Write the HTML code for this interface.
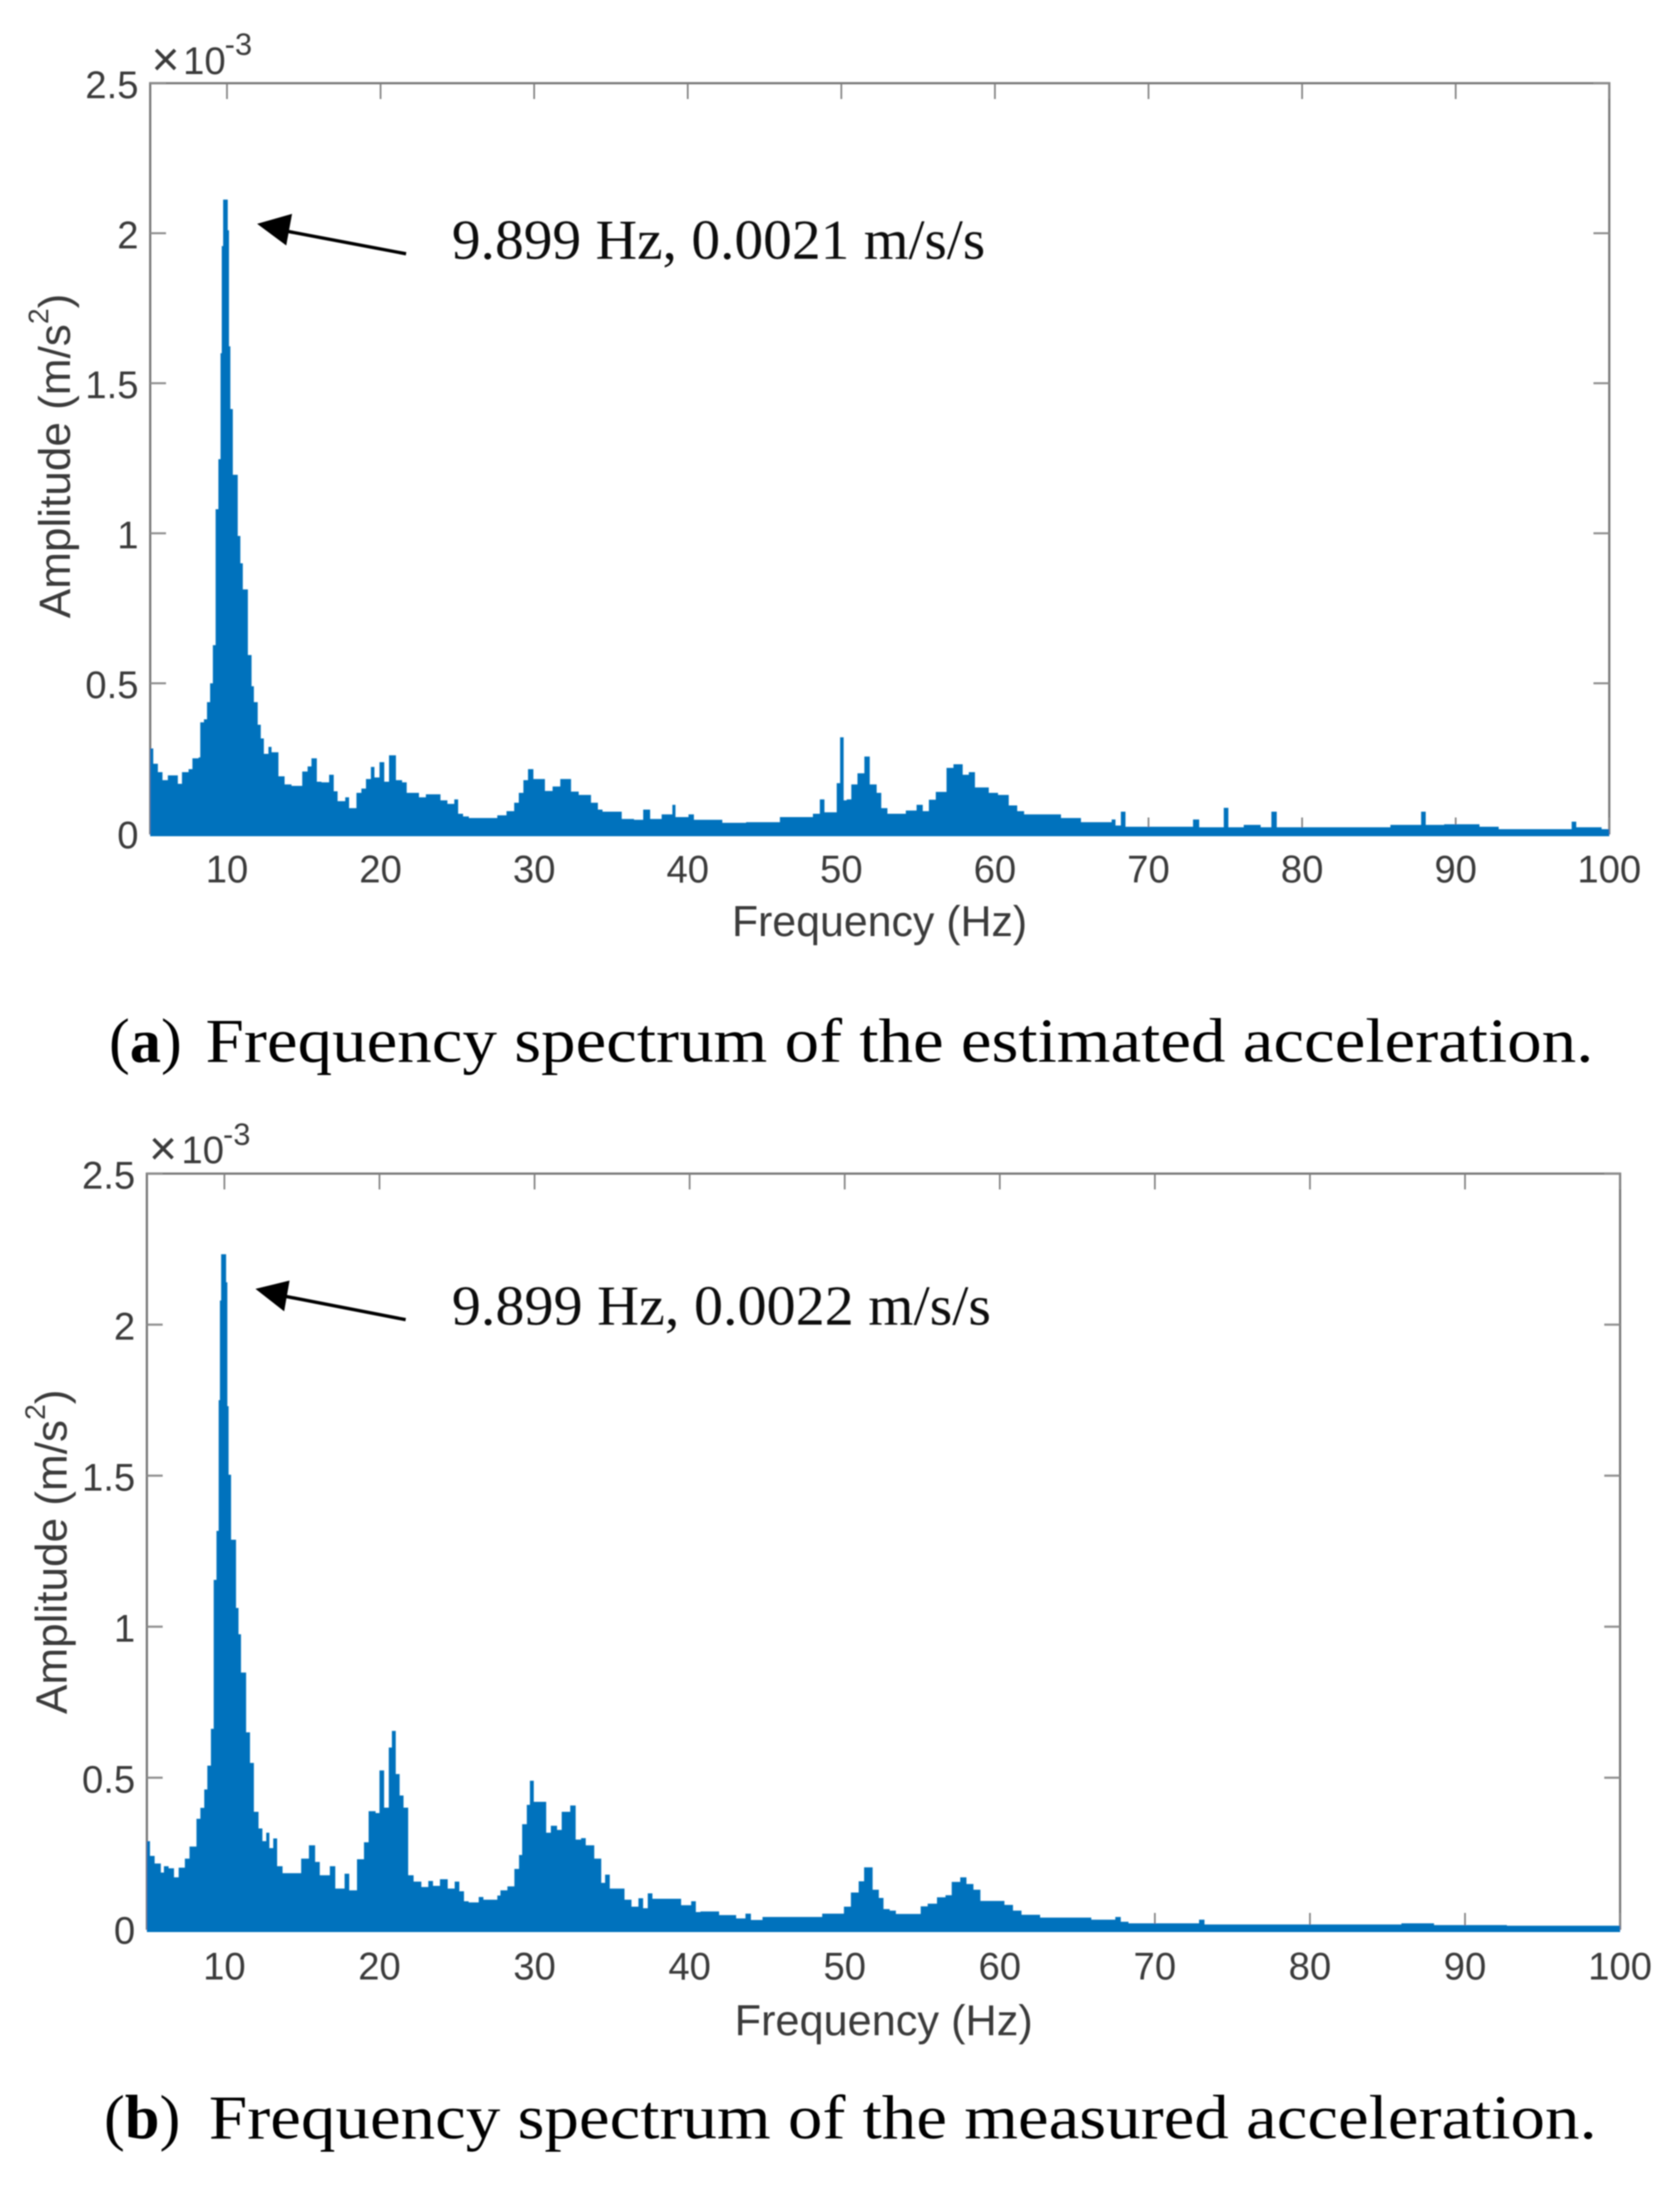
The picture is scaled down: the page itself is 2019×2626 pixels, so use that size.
<!DOCTYPE html>
<html lang="en">
<head>
<meta charset="utf-8">
<title>Frequency spectra of estimated and measured acceleration</title>
<style>
  html, body { margin: 0; padding: 0; background: #fff; }
  body { width: 2019px; height: 2626px; overflow: hidden; }
  svg { display: block; }
  .tick-label { font-family: "Liberation Sans", sans-serif; font-size: 46px; fill: #3a3a3a; }
  .axis-title { font-family: "Liberation Sans", sans-serif; fill: #3a3a3a; }
  .serif { font-family: "Liberation Serif", serif; fill: #111; }
  .caption { font-family: "Liberation Serif", serif; font-size: 75px; fill: #000; }
</style>
</head>
<body>
<svg id="fig" xmlns="http://www.w3.org/2000/svg" width="2019" height="2626" viewBox="0 0 2019 2626">
  <defs>
    <filter id="soft" x="0" y="0" width="100%" height="100%"><feGaussianBlur stdDeviation="0.7"/></filter>
  </defs>
  <rect width="2019" height="2626" fill="#fff"/>
  <g filter="url(#soft)">

    <g id="chart-a">
      <text class="tick-label" x="182" y="91" style="font-size:58px">×</text>
      <text class="tick-label" x="220" y="89">10</text>
      <text class="tick-label" x="270" y="66" style="font-size:37px">-3</text>
      <text class="axis-title" x="1057" y="1125" text-anchor="middle" font-size="51.5">Frequency (Hz)</text>
      <text class="axis-title" transform="translate(84,743) rotate(-90)" font-size="53">Amplitude (m/s<tspan font-size="34" dy="-26">2</tspan><tspan dy="26">)</tspan></text>
      <polygon points="309,269 351,257 344,295" fill="#000"/>
      <line x1="340" y1="277" x2="488" y2="305" stroke="#000" stroke-width="4"/>
      <text class="serif" x="543" y="311" font-size="68" textLength="641" lengthAdjust="spacingAndGlyphs">9.899 Hz, 0.0021 m/s/s</text>
    </g>
    <text class="caption" x="131" y="1276">(<tspan font-weight="700">a</tspan>)</text>
    <text class="caption" x="247" y="1276" textLength="1668" lengthAdjust="spacingAndGlyphs">Frequency spectrum of the estimated acceleration.</text>

    <g id="chart-b">
      <text class="tick-label" x="179" y="1400" style="font-size:58px">×</text>
      <text class="tick-label" x="218" y="1398">10</text>
      <text class="tick-label" x="268" y="1376" style="font-size:37px">-3</text>
      <text class="axis-title" x="1062" y="2446" text-anchor="middle" font-size="52">Frequency (Hz)</text>
      <text class="axis-title" transform="translate(80,2060) rotate(-90)" font-size="53">Amplitude (m/s<tspan font-size="34" dy="-26">2</tspan><tspan dy="26">)</tspan></text>
      <polygon points="307,1549 348,1539 341.5,1576" fill="#000"/>
      <line x1="338" y1="1557" x2="487.5" y2="1586" stroke="#000" stroke-width="4"/>
      <text class="serif" x="543" y="1592" font-size="68" textLength="648" lengthAdjust="spacingAndGlyphs">9.899 Hz, 0.0022 m/s/s</text>
    </g>
    <text class="caption" x="125" y="2570">(<tspan font-weight="700">b</tspan>)</text>
    <text class="caption" x="251" y="2570" textLength="1668" lengthAdjust="spacingAndGlyphs">Frequency spectrum of the measured acceleration.</text>
  </g>
</svg>

<script>
// Axis limits, ticks and labels
var xLimits = [5, 100];
var yLimits = [0, 2.5];
var xTicks = [10, 20, 30, 40, 50, 60, 70, 80, 90, 100];
var xTickLabels = ["10", "20", "30", "40", "50", "60", "70", "80", "90", "100"];
var yTicks = [0, 0.5, 1, 1.5, 2, 2.5];
var yTickLabels = ["0", "0.5", "1", "1.5", "2", "2.5"];

// Estimated acceleration: envelope steps (frequency in Hz, amplitude in 1e-3 m/s^2)
var freqEstimated = [
  5,5.2,5.5,5.8,6.15,6.6,6.8,7.07,7.5,7.75,
  8.15,8.26,8.5,8.7,8.9,9.08,9.26,9.44,9.58,9.66,
  9.75,10.05,10.13,10.22,10.38,10.7,10.87,11.03,11.36,11.6,
  11.75,12,12.2,12.4,12.7,12.9,13.35,13.75,14.2,14.9,
  15.25,15.5,15.85,16.15,16.65,16.95,17.2,17.7,17.95,18.43,
  18.75,19.05,19.37,19.6,19.93,20.24,20.55,21,21.4,21.7,
  22.5,22.95,23.9,24.35,24.8,25.05,25.37,25.75,27.6,28.2,
  28.7,29,29.3,29.6,29.95,30.7,31.2,31.7,32.4,32.9,
  33.7,34.15,34.45,35.7,36.5,37.1,37.55,38.3,39,39.2,
  40.05,40.4,42.25,43.8,46,48.15,48.6,48.9,49.7,49.92,
  50.15,50.35,50.65,51.05,51.5,51.85,52.3,52.6,53,54.2,
  54.9,55.3,55.7,56.15,56.85,57.3,57.9,58.3,58.7,59.6,
  60.2,60.9,61.45,61.9,64.3,65.6,67.6,67.85,68.2,68.5,
  72.9,73.3,74.9,75.2,76.2,77.3,78,78.35,85.75,87.75,
  88.05,89.25,91.55,92.8,97.55,97.85,99.5,100
];
var ampEstimated = [
  .283,.232,.204,.177,.193,.193,.165,.204,.214,.25,
  .253,.37,.38,.437,.5,.627,1.08,1.247,1.6,1.957,
  2.112,2.01,1.623,1.414,1.195,.991,.9,.813,.594,.49,
  .437,.362,.316,.265,.288,.27,.19,.163,.158,.206,
  .223,.25,.172,.17,.195,.14,.107,.12,.084,.135,
  .149,.181,.221,.186,.237,.172,.26,.177,.17,.135,
  .12,.13,.11,.098,.113,.065,.056,.051,.06,.074,
  .102,.135,.177,.214,.181,.141,.156,.181,.139,.128,
  .102,.079,.072,.048,.045,.079,.048,.063,.095,.054,
  .063,.045,.035,.037,.054,.065,.113,.07,.167,.32,
  .11,.113,.163,.2,.256,.163,.135,.084,.065,.076,
  .095,.074,.112,.138,.218,.23,.195,.204,.153,.135,
  .128,.093,.074,.063,.051,.037,.046,.026,.072,.022,
  .046,.02,.085,.02,.028,.02,.072,.02,.028,.072,
  .028,.03,.022,.014,.039,.02,.014,.014
];

// Measured acceleration: envelope steps (frequency in Hz, amplitude in 1e-3 m/s^2)
var freqMeasured = [
  5,5.2,5.5,5.9,6.1,6.4,6.75,7.05,7.45,7.75,
  8.2,8.45,8.7,8.9,9.13,9.31,9.49,9.63,9.71,9.79,
  10.11,10.19,10.27,10.43,10.75,10.91,11.07,11.4,11.65,11.9,
  12.2,12.45,12.7,12.9,13.15,13.4,13.75,14.95,15.45,15.85,
  16.15,16.8,17.15,17.75,18.05,18.55,19,19.3,19.75,20,
  20.3,20.6,20.8,21.05,21.3,21.55,21.85,22.2,22.7,23.15,
  23.45,23.9,24.4,24.85,25.15,25.45,25.75,26.4,26.7,27.6,
  27.8,28.25,28.7,29,29.2,29.5,29.7,29.95,30.75,31.05,
  31.45,31.75,32.3,32.65,33,33.3,33.85,34.3,34.55,34.85,
  35.8,36.25,36.7,37,37.3,37.6,39.45,40.1,40.4,40.7,
  41.9,43,43.6,43.95,44.7,48.55,49.95,50.4,50.9,51.25,
  51.8,52.2,52.5,52.9,53.3,54.9,55.35,55.95,56.5,56.9,
  57.45,57.85,58.3,58.75,60.3,60.85,61.4,62.6,65.9,67.45,
  67.8,68.3,72.85,73.2,85.9,88,92.7,100
];
var ampMeasured = [
  .29,.241,.216,.186,.207,.2,.17,.202,.232,.272,
  .364,.40,.461,.54,.662,1.155,1.317,1.75,2.08,2.233,
  2.14,1.73,1.503,1.288,1.062,.975,.848,.65,.549,.387,
  .332,.29,.318,.267,.299,.207,.184,.232,.276,.221,
  .177,.207,.133,.182,.127,.23,.286,.389,.383,.524,
  .401,.6,.655,.512,.441,.401,.177,.156,.138,.158,
  .142,.164,.133,.156,.124,.091,.087,.105,.096,.11,
  .127,.14,.198,.244,.346,.41,.49,.42,.318,.341,
  .327,.387,.408,.295,.3,.276,.232,.152,.179,.133,
  .096,.073,.101,.068,.117,.099,.078,.091,.055,.057,
  .045,.034,.05,.029,.039,.05,.073,.12,.157,.203,
  .129,.102,.065,.06,.049,.074,.083,.104,.111,.155,
  .17,.148,.129,.092,.079,.06,.046,.037,.03,.039,
  .023,.018,.03,.014,.018,.012,.01,.01
];

var SVGNS = 'http://www.w3.org/2000/svg';

function makeScale(d0, d1, r0, r1) {
  return function (v) { return r0 + (v - d0) * (r1 - r0) / (d1 - d0); };
}

function drawChart(groupId, box, freqs, amps) {
  var group = document.getElementById(groupId);
  var first = group.firstChild;
  var x = makeScale(xLimits[0], xLimits[1], box.left, box.right);
  var y = makeScale(yLimits[0], yLimits[1], box.bottom, box.top);

  var frame = document.createElementNS(SVGNS, 'rect');
  
  
  frame.setAttribute('x', box.left);
  frame.setAttribute('y', box.top);
  frame.setAttribute('width', box.right - box.left);
  frame.setAttribute('height', box.bottom - box.top);
  frame.setAttribute('fill', 'none');
  frame.setAttribute('stroke', '#757575');
  frame.setAttribute('stroke-width', '2.6');
  group.insertBefore(frame, first);

  xTicks.forEach(function (t, i) {
    [[box.top, box.top + 19], [box.bottom, box.bottom - 19]].forEach(function (p) {
      var tick = document.createElementNS(SVGNS, 'line');
      
      
      tick.setAttribute('x1', x(t));
      tick.setAttribute('x2', x(t));
      tick.setAttribute('y1', p[0]);
      tick.setAttribute('y2', p[1]);
      tick.setAttribute('stroke', '#808080');
      tick.setAttribute('stroke-width', '2');
      group.insertBefore(tick, first);
    });
    var label = document.createElementNS(SVGNS, 'text');
    
    
    label.setAttribute('class', 'tick-label');
    label.setAttribute('x', x(t));
    label.setAttribute('y', box.bottom + box.xLabelDrop);
    label.setAttribute('text-anchor', 'middle');
    label.textContent = xTickLabels[i];
    group.insertBefore(label, first);
  });

  yTicks.forEach(function (t, i) {
    [[box.left, box.left + 19], [box.right, box.right - 19]].forEach(function (p) {
      var tick = document.createElementNS(SVGNS, 'line');
      
      
      tick.setAttribute('x1', p[0]);
      tick.setAttribute('x2', p[1]);
      tick.setAttribute('y1', y(t));
      tick.setAttribute('y2', y(t));
      tick.setAttribute('stroke', '#8c8c8c');
      tick.setAttribute('stroke-width', '2.4');
      group.insertBefore(tick, first);
    });
    var label = document.createElementNS(SVGNS, 'text');
    
    
    label.setAttribute('class', 'tick-label');
    label.setAttribute('x', box.left - 14);
    label.setAttribute('y', y(t) + 18);
    label.setAttribute('text-anchor', 'end');
    label.textContent = yTickLabels[i];
    group.insertBefore(label, first);
  });

  var floor = y(0) + box.lineBelow;
  var d = 'M' + x(freqs[0]).toFixed(2) + ' ' + floor.toFixed(2);
  for (var i = 0; i < freqs.length - 1; i++) {
    d += 'L' + x(freqs[i]).toFixed(2) + ' ' + y(amps[i]).toFixed(2);
    d += 'L' + x(freqs[i + 1]).toFixed(2) + ' ' + y(amps[i]).toFixed(2);
  }
  d += 'L' + x(freqs[freqs.length - 1]).toFixed(2) + ' ' + floor.toFixed(2) + 'Z';

  var series = document.createElementNS(SVGNS, 'path');
  
  
  series.setAttribute('d', d);
  series.setAttribute('fill', '#0072BD');
  group.insertBefore(series, first);
}

drawChart('chart-a', { left: 180.5, right: 1934, top: 100, bottom: 1001.5, lineBelow: 3.5, xLabelDrop: 59 }, freqEstimated, ampEstimated);
drawChart('chart-b', { left: 176.5, right: 1947, top: 1410.5, bottom: 2318, lineBelow: 4, xLabelDrop: 61 }, freqMeasured, ampMeasured);
</script>
</body>
</html>
